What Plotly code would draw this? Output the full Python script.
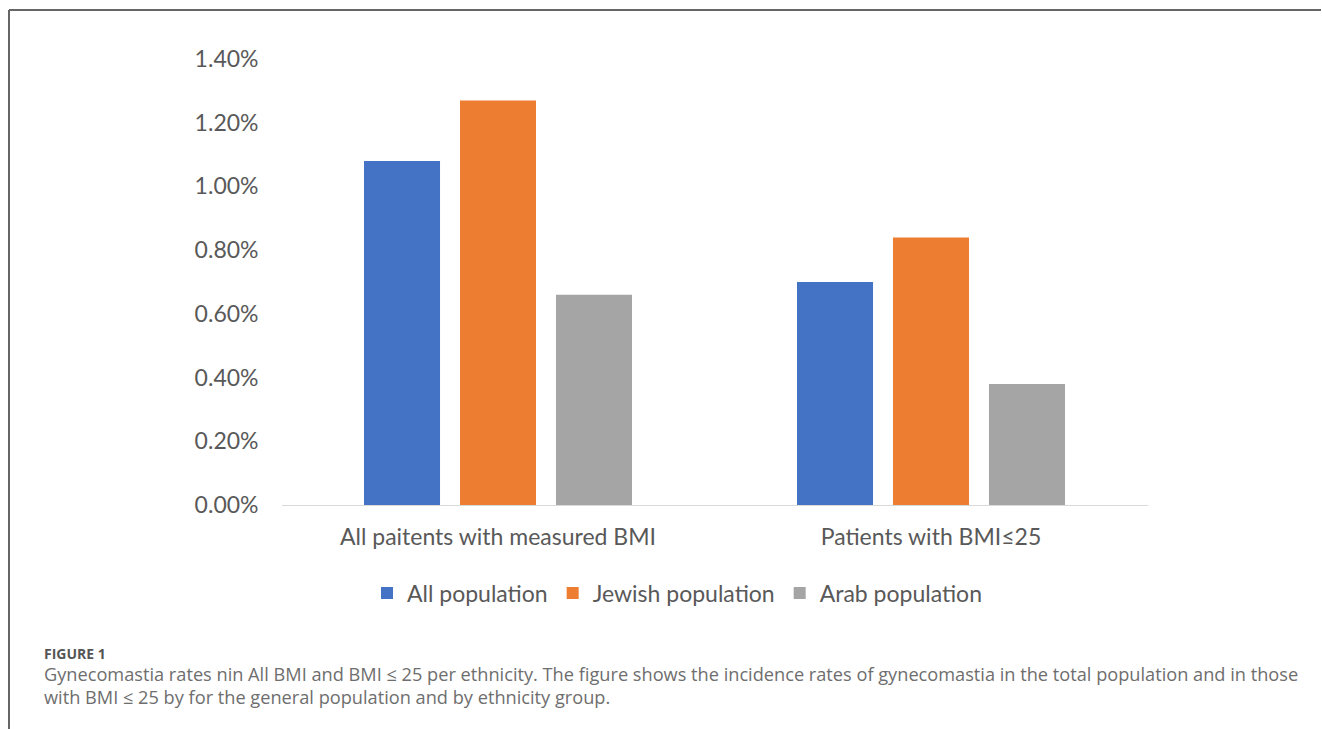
import plotly.graph_objects as go

categories = ["All paitents with measured BMI", "Patients with BMI≤25"]
series_names = ["All population", "Jewish population", "Arab population"]
all_population = [1.08, 0.70]
jewish_population = [1.27, 0.84]
arab_population = [0.66, 0.38]
y_ticks = [0.0, 0.2, 0.4, 0.6, 0.8, 1.0, 1.2, 1.4]
y_tick_labels = [f"{v:.2f}%" for v in y_ticks]

colors = ["#4472C4", "#ED7D31", "#A5A5A5"]
series_values = [all_population, jewish_population, arab_population]

W, H = 1322, 729
chart_font = "Lato"
caption_font = "Open Sans"
text_grey = "#595959"

fig = go.Figure()
for name, vals, col in zip(series_names, series_values, colors):
    fig.add_trace(go.Bar(name=name, x=categories, y=vals, marker=dict(color=col, line=dict(width=0))))

fig.update_layout(
    width=W, height=H,
    margin=dict(l=0, r=0, t=0, b=0, pad=0, autoexpand=False),
    paper_bgcolor="white", plot_bgcolor="white",
    barmode="group", bargap=0.335, bargroupgap=0.208,
    font=dict(family=chart_font, color=text_grey, size=23),
    xaxis=dict(domain=[281.5 / W, 1147.5 / W], showline=True, linecolor="#D9D9D9", linewidth=1,
               ticks="", ticklabelstandoff=11, tickfont=dict(size=23, color=text_grey),
               showgrid=False, zeroline=False, automargin=False),
    yaxis=dict(domain=[1 - 505 / H, 1 - 59 / H], range=[0, 1.4], tickvals=y_ticks, ticktext=y_tick_labels,
               showgrid=False, zeroline=False, showline=False, automargin=False,
               ticks="", ticklabelstandoff=22, tickfont=dict(size=23, color=text_grey)),
    legend=dict(orientation="h", x=677 / W, xanchor="center", y=1 - 593 / H, yanchor="middle",
                font=dict(size=23, color=text_grey), itemwidth=30, traceorder="normal"),
    showlegend=True,
)

# frame around the figure panel
fig.add_shape(type="line", xref="paper", yref="paper", x0=9 / W, x1=1321 / W, y0=1 - 10 / H, y1=1 - 10 / H,
              line=dict(color="#666666", width=2))
fig.add_shape(type="line", xref="paper", yref="paper", x0=9 / W, x1=9 / W, y0=1 - 10 / H, y1=0,
              line=dict(color="#666666", width=2))

fig.add_annotation(xref="paper", yref="paper", x=42 / W, y=1 - 653 / H, xanchor="left", yanchor="middle",
                   text="<b>FIGURE 1</b>", showarrow=False,
                   font=dict(family=caption_font, size=14, color="#555555"))
fig.add_annotation(xref="paper", yref="paper", x=42 / W, y=1 - 674 / H, xanchor="left", yanchor="middle",
                   text="Gynecomastia rates nin All BMI and BMI ≤ 25 per ethnicity. The figure shows the incidence rates of gynecomastia in the total population and in those",
                   showarrow=False, font=dict(family=caption_font, size=18.2, color="#6E6E6E"))
fig.add_annotation(xref="paper", yref="paper", x=42 / W, y=1 - 697 / H, xanchor="left", yanchor="middle",
                   text="with BMI ≤ 25 by for the general population and by ethnicity group.",
                   showarrow=False, font=dict(family=caption_font, size=18.2, color="#6E6E6E"))

fig.write_html("out.html")
